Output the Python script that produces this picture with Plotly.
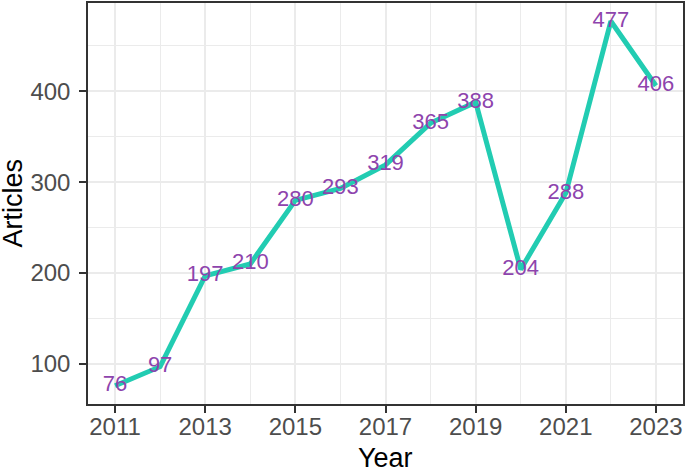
import plotly.graph_objects as go

years = [2011, 2012, 2013, 2014, 2015, 2016, 2017, 2018, 2019, 2020, 2021, 2022, 2023]
articles = [76, 97, 197, 210, 280, 293, 319, 365, 388, 204, 288, 477, 406]
x_ticks = [2011, 2013, 2015, 2017, 2019, 2021, 2023]
y_ticks = [100, 200, 300, 400]

FONT = "Liberation Sans, Arial, sans-serif"

fig = go.Figure()
fig.add_trace(go.Scatter(
    x=years, y=articles, mode="lines+text",
    text=[str(v) for v in articles], textposition="middle center",
    textfont=dict(family=FONT, size=22, color="#8E44AD"),
    line=dict(color="#22CCB2", width=5),
    cliponaxis=False, hoverinfo="skip", showlegend=False,
))

ymin, ymax = min(articles), max(articles)
pad = (ymax - ymin) * 0.05
xpad = (max(years) - min(years)) * 0.05

axis_common = dict(
    showline=True, mirror=True, linecolor="#333333", linewidth=1.5,
    ticks="outside", ticklen=7, tickwidth=2, tickcolor="#333333",
    showgrid=True, gridcolor="#EBEBEB", gridwidth=2,
    zeroline=False, automargin=False,
    tickfont=dict(family=FONT, size=24, color="#4D4D4D"),
)

fig.update_layout(
    width=685, height=468,
    margin=dict(l=88, r=2, t=3, b=64, autoexpand=False),
    paper_bgcolor="white", plot_bgcolor="white",
    xaxis=dict(
        **axis_common,
        range=[min(years) - xpad, max(years) + xpad],
        tickmode="array", tickvals=x_ticks, ticktext=[str(t) for t in x_ticks],
        ticklabelstandoff=-7,
        minor=dict(dtick=1, tick0=2011, showgrid=True, gridcolor="#EBEBEB", gridwidth=1, ticks=""),
    ),
    yaxis=dict(
        **axis_common,
        range=[ymin - pad, ymax + pad],
        tickmode="array", tickvals=y_ticks, ticktext=[str(t) for t in y_ticks],
        ticklabelstandoff=4,
        minor=dict(dtick=50, tick0=0, showgrid=True, gridcolor="#EBEBEB", gridwidth=1, ticks=""),
    ),
    annotations=[
        dict(text="Year", xref="paper", yref="paper", x=0.5, y=(404 - 441) / 401,
             xanchor="center", yanchor="top", showarrow=False,
             font=dict(family=FONT, size=27, color="black")),
        dict(text="Articles", xref="paper", yref="paper", x=(12 - 88) / 595, y=0.5,
             xanchor="center", yanchor="middle", textangle=-90, showarrow=False,
             font=dict(family=FONT, size=27, color="black")),
    ],
)

fig.write_html("out.html", config={"displayModeBar": False},
               post_script="document.body.style.margin='0';document.body.style.overflow='hidden';")
